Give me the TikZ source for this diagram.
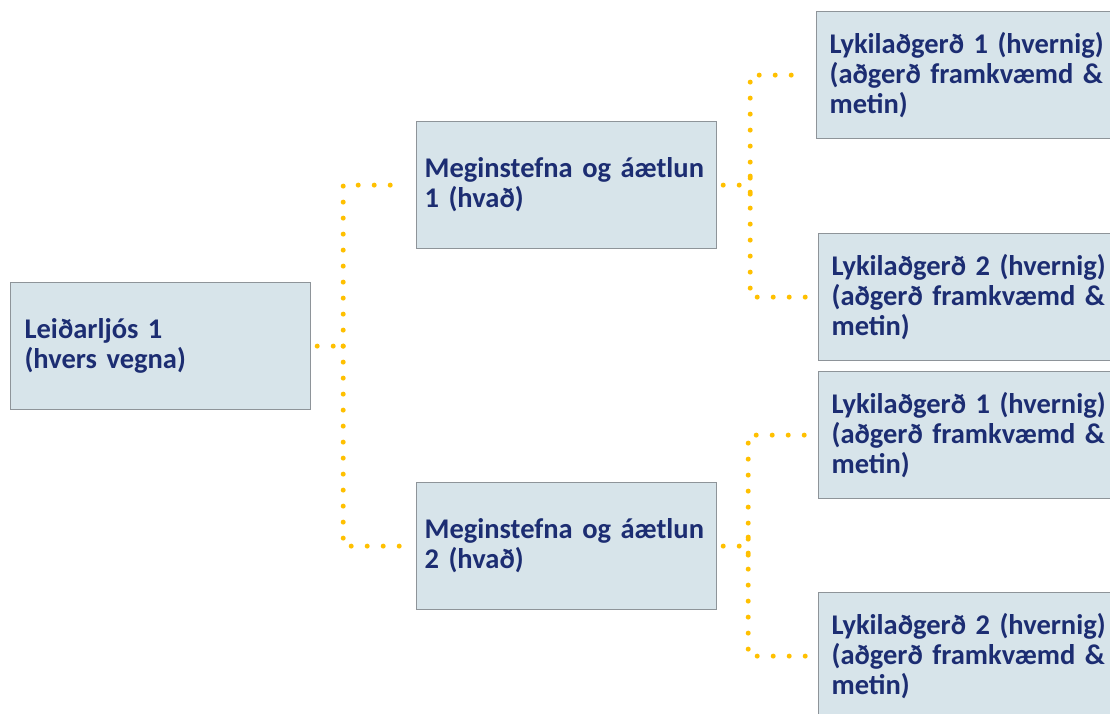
\documentclass[tikz,border=0pt]{standalone}
\usepackage{fontspec}
\setmainfont{Carlito}
\definecolor{boxfill}{RGB}{215,228,234}
\definecolor{boxline}{RGB}{142,148,153}
\definecolor{txt}{RGB}{28,45,114}
\definecolor{gold}{RGB}{255,192,0}
\begin{document}
\begin{tikzpicture}[x=1pt,y=-1pt,
  box/.style={draw=boxline,line width=1.2pt,fill=boxfill,rectangle,anchor=north west,
    minimum height=127pt,text width={300pt-2*#1},inner xsep=#1,inner ysep=0pt,align=left,
    font=\fontsize{28.5}{30}\selectfont\bfseries,text=txt},
  box/.default=13pt,
  kbox/.style={box=13pt,text width=300pt},
  conn/.style={draw=gold,line width=5pt,line cap=round,dash pattern=on 0pt off 16pt}]
\useasboundingbox (0,0) rectangle (1110,713);
\node[box=14pt] (L) at (10,282) {Leiðarljós 1\\(hvers vegna)};
\node[box=8pt] (M1) at (416,121) {Meginstefna og áætlun\\1 (hvað)};
\node[box=8pt] (M2) at (416,482) {Meginstefna og áætlun\\2 (hvað)};
\node[kbox] (K1) at (816,11) {Lykilaðgerð 1 (hvernig)\\(aðgerð framkvæmd \&\\metin)};
\node[kbox] (K2) at (818,233) {Lykilaðgerð 2 (hvernig)\\(aðgerð framkvæmd \&\\metin)};
\node[kbox] (K3) at (818,371) {Lykilaðgerð 1 (hvernig)\\(aðgerð framkvæmd \&\\metin)};
\node[kbox] (K4) at (818,592) {Lykilaðgerð 2 (hvernig)\\(aðgerð framkvæmd \&\\metin)};
\coordinate (j0) at ([xshift=32pt]L.east);
\coordinate (j1) at ([xshift=33pt]M1.east);
\coordinate (j2) at ([xshift=31pt]M2.east);
\draw[conn,shorten <=6pt,shorten >=2pt] (L.east) -- (j0);
\draw[conn,shorten <=7pt,shorten >=12pt] ([yshift=-7pt]j0) |- (M1.west);
\draw[conn,shorten <=7pt,shorten >=12pt] ([yshift=7pt]j0) |- (M2.west);
\draw[conn,shorten <=6pt,shorten >=2pt] (M1.east) -- (j1);
\draw[conn,shorten <=0pt,shorten >=12pt] ([yshift=-9pt]j1) |- (K1.west);
\draw[conn,shorten <=0pt,shorten >=12pt] ([yshift=9pt]j1) |- (K2.west);
\draw[conn,shorten <=6pt,shorten >=2pt] (M2.east) -- (j2);
\draw[conn,shorten <=0pt,shorten >=12pt] ([yshift=-9pt]j2) |- (K3.west);
\draw[conn,shorten <=0pt,shorten >=12pt] ([yshift=9pt]j2) |- (K4.west);
\end{tikzpicture}
\end{document}
